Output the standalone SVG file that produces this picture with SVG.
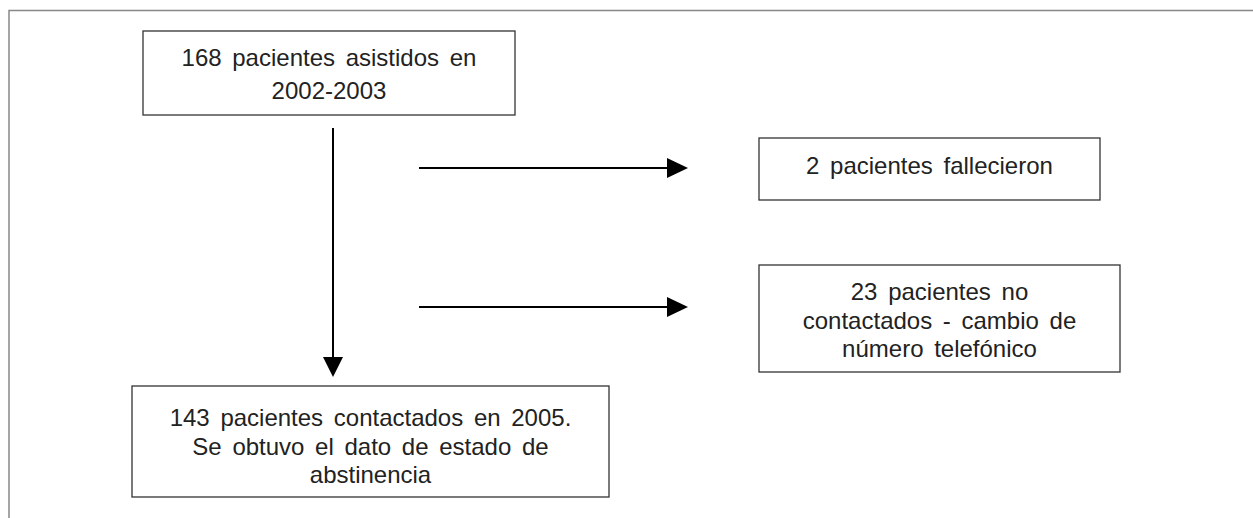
<svg xmlns="http://www.w3.org/2000/svg" width="1253" height="518" viewBox="0 0 1253 518">
<style>
.frame{fill:none;stroke:#888;stroke-width:1.5}
.box{fill:#fff;stroke:#333;stroke-width:1.3}
.t{font-family:"Liberation Sans",Arial,sans-serif;font-size:24px;fill:#222;text-anchor:middle;word-spacing:4px}
.c{stroke:#000;stroke-width:2;fill:none}
.ah{fill:#000}
</style>
<rect width="1253" height="518" fill="#fff"/>
<path class="frame" d="M9,518 V10.5 H1253"/>
<g id="n1">
<rect class="box" x="143" y="31" width="372" height="84"/>
<text class="t" x="329" y="66">168 pacientes asistidos en</text>
<text class="t" x="329" y="99">2002-2003</text>
</g>
<g id="n2">
<rect class="box" x="759" y="138" width="341" height="62"/>
<text class="t" x="929.5" y="174">2 pacientes fallecieron</text>
</g>
<g id="n3">
<rect class="box" x="759" y="265" width="361" height="107"/>
<text class="t" x="939.5" y="300">23 pacientes no</text>
<text class="t" x="939.5" y="328.5">contactados - cambio de</text>
<text class="t" x="939.5" y="357">número telefónico</text>
</g>
<g id="n4">
<rect class="box" x="132" y="386" width="477" height="111"/>
<text class="t" x="370.5" y="426">143 pacientes contactados en 2005.</text>
<text class="t" x="370.5" y="455">Se obtuvo el dato de estado de</text>
<text class="t" x="370.5" y="483">abstinencia</text>
</g>
<g id="connectors">
<line class="c" x1="333" y1="128" x2="333" y2="357"/>
<path class="ah" d="M323,357 L343,357 L333,377 z"/>
<line class="c" x1="419" y1="168" x2="668" y2="168"/>
<path class="ah" d="M667,158 L688,168 L667,178 z"/>
<line class="c" x1="419" y1="307" x2="668" y2="307"/>
<path class="ah" d="M667,297 L688,307 L667,317 z"/>
</g>
</svg>
